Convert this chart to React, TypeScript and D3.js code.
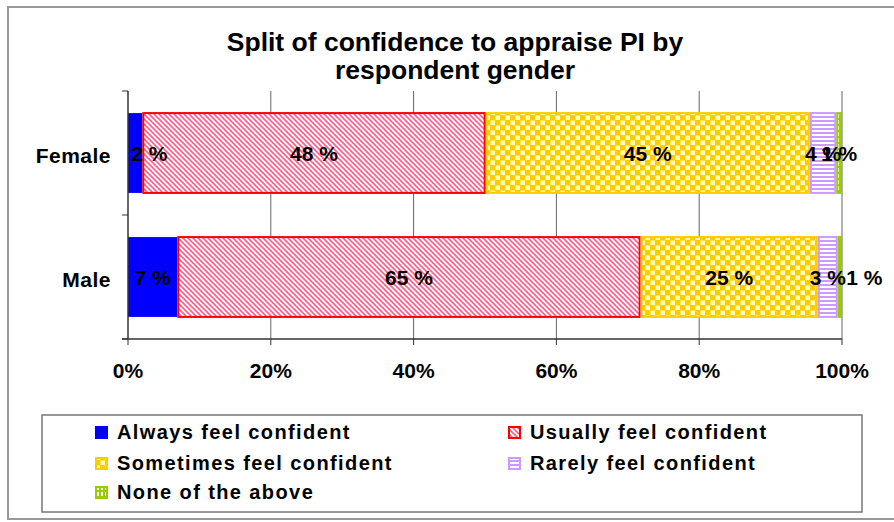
import React from "react";
import * as d3 from "d3";

const categories = ["Female", "Male"];
const seriesNames = [
  "Always feel confident",
  "Usually feel confident",
  "Sometimes feel confident",
  "Rarely feel confident",
  "None of the above",
];
const femaleValues = [2, 48.1, 45.4, 3.7, 0.8];
const maleValues = [6.9, 64.9, 24.8, 2.8, 0.6];
const femaleLabels = ["2 %", "48 %", "45 %", "4 %", "1 %"];
const maleLabels = ["7 %", "65 %", "25 %", "3 %", "1 %"];
const avoidLabelOverlap = [false, true];
const xTicks = [0, 20, 40, 60, 80, 100];
const titleLines = ["Split of confidence to appraise PI by", "respondent gender"];

const W = 894;
const H = 522;
const FONT = "'Liberation Sans', Arial, sans-serif";

const fills = ["#0000FF", "url(#pRed)", "url(#pYellow)", "url(#pPurple)", "url(#pGreen)"];
const strokes = ["#0000FF", "#FF0000", "#FFCC00", "#CC99FF", "#99CC00"];

export default function App() {
  const x = d3.scaleLinear().domain([0, 100]).range([128, 842]);
  const y = d3.scaleBand().domain(categories).range([91, 339]).paddingInner(0.34).paddingOuter(0.17);
  const band = d3.scaleBand().domain(categories).range([91, 339]);
  const rows = [
    { cat: "Female", values: femaleValues, labels: femaleLabels },
    { cat: "Male", values: maleValues, labels: maleLabels },
  ];
  const stack = rows.map((r, ri) => {
    let acc = 0;
    const segs = r.values.map((v, i) => {
      const s = { x0: acc, x1: acc + v, i, label: r.labels[i] };
      acc += v;
      return s;
    });
    const charW = 11.5;
    let prevRight = -Infinity;
    const labs = segs.map((s) => {
      const w = s.label.length * charW + 2;
      let cx = (x(s.x0) + x(s.x1)) / 2;
      if (cx - w / 2 < x(0) + 3) cx = x(0) + 3 + w / 2;
      if (avoidLabelOverlap[ri] && cx - w / 2 < prevRight) cx = prevRight + w / 2;
      prevRight = cx + w / 2;
      return { ...s, cx };
    });
    return { cat: r.cat, labs };
  });

  const legendItems = seriesNames.map((n, i) => ({
    name: n,
    col: i % 2,
    row: Math.floor(i / 2),
  }));
  const legendX = [95, 508];
  const legendY = [432, 463, 492];

  return (
    <svg width={W} height={H} style={{ position: "absolute", left: 0, top: 0 }} fontFamily={FONT}>
      <defs>
        <pattern id="pRed" width="5" height="5" patternUnits="userSpaceOnUse">
          <rect width="5" height="5" fill="#fff" />
          <path d="M-1,-1 L6,6 M-3.5,1.5 L3.5,8.5 M1.5,-3.5 L8.5,3.5" stroke="#FF5C8A" strokeWidth="1.6" />
        </pattern>
        <pattern id="pYellow" width="10" height="10" patternUnits="userSpaceOnUse">
          <rect width="10" height="10" fill="#FFCC00" />
          <rect x="0.5" y="0.5" width="4.5" height="4.5" fill="#FFFFC0" />
          <rect x="5.5" y="5.5" width="4.5" height="4.5" fill="#FFFFC0" />
        </pattern>
        <pattern id="pPurple" width="4" height="4" patternUnits="userSpaceOnUse">
          <rect width="4" height="4" fill="#CC99FF" />
          <rect y="2" width="4" height="2" fill="#fff" />
        </pattern>
        <pattern id="pGreen" width="4" height="6" patternUnits="userSpaceOnUse">
          <rect width="4" height="6" fill="#99CC00" />
          <rect x="1" y="0" width="2" height="4" fill="#fff" />
        </pattern>
      </defs>
      <rect x={0} y={0} width={W} height={H} fill="#fff" />
      <rect x={8} y={7} width={W + 10} height={512} fill="#fff" stroke="#999" strokeWidth={2} />

      {titleLines.map((t, i) => (
        <text key={i} x={455} y={42 + i * 28} textAnchor="middle" dominantBaseline="central" fontSize={26.5} fontWeight="bold">
          {t}
        </text>
      ))}

      {xTicks.slice(1).map((t) => (
        <line key={t} x1={x(t)} x2={x(t)} y1={91} y2={339} stroke="#666" strokeWidth={1} />
      ))}

      {stack.map((r) => (
        <g key={r.cat}>
          {r.labs.map((s) => (
            <rect
              key={s.i}
              x={x(s.x0) + (s.i === 0 ? 0 : 1)}
              y={y(r.cat)! + 1}
              width={Math.max(0, x(s.x1) - x(s.x0) - (s.i === 0 ? 0 : 2))}
              height={y.bandwidth() - 2}
              fill={fills[s.i]}
              stroke={strokes[s.i]}
              strokeWidth={s.i === 0 ? 0 : 2}
            />
          ))}
        </g>
      ))}

      <line x1={128} x2={128} y1={91} y2={339} stroke="#333" strokeWidth={1.5} />
      {[...categories.map((c) => band(c)!), 339].map((v, i) => (
        <line key={i} x1={122} x2={128} y1={v} y2={v} stroke="#333" strokeWidth={1} />
      ))}
      <line x1={122} x2={842} y1={339} y2={339} stroke="#333" strokeWidth={1.5} />
      {xTicks.map((t) => (
        <g key={t}>
          <line x1={x(t)} x2={x(t)} y1={339} y2={345} stroke="#333" strokeWidth={1} />
          <text x={x(t)} y={370} textAnchor="middle" dominantBaseline="central" fontSize={21} fontWeight="bold">
            {t}%
          </text>
        </g>
      ))}
      {categories.map((c) => (
        <text key={c} x={111} y={band(c)! + band.bandwidth() / 2 + 2} textAnchor="end" dominantBaseline="central" fontSize={21} fontWeight="bold" letterSpacing={0.5}>
          {c}
        </text>
      ))}

      {stack.map((r) =>
        r.labs.map((s) => (
          <text
            key={r.cat + s.i}
            x={s.cx}
            y={y(r.cat)! + y.bandwidth() / 2}
            textAnchor="middle"
            dominantBaseline="central"
            fontSize={21}
            fontWeight="bold"
          >
            {s.label}
          </text>
        ))
      )}

      <rect x={42} y={415} width={820} height={97} fill="#fff" stroke="#777" strokeWidth={1.5} />
      {legendItems.map((l, i) => (
        <g key={i}>
          <rect
            x={legendX[l.col] + (i === 0 ? 0 : 1)}
            y={legendY[l.row] - 6 + (i === 0 ? 0 : 1)}
            width={i === 0 ? 13 : 11}
            height={i === 0 ? 13 : 11}
            fill={fills[i]}
            stroke={strokes[i]}
            strokeWidth={i === 0 ? 0 : 2}
          />
          <text x={legendX[l.col] + 22} y={legendY[l.row]} dominantBaseline="central" fontSize={20} fontWeight="bold" letterSpacing={1.4}>
            {l.name}
          </text>
        </g>
      ))}
    </svg>
  );
}
